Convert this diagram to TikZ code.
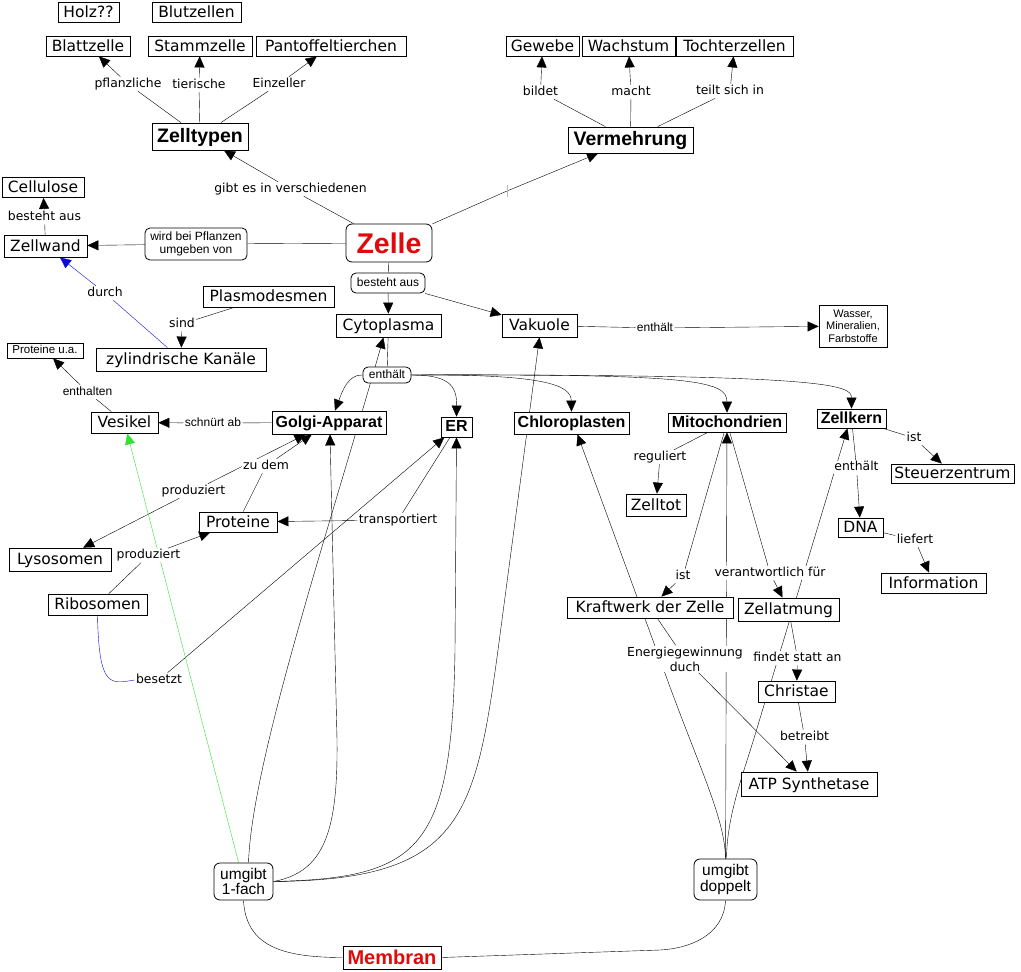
\documentclass[tikz,border=0pt]{standalone}
\usepackage{fontspec}
\usetikzlibrary{arrows.meta}
\newfontfamily\lgf{DejaVu Sans}
\newfontfamily\hvf{Liberation Sans}
\pgfdeclarelayer{bg}
\pgfsetlayers{bg,main}
\definecolor{zred}{RGB}{225,10,10}
\definecolor{zgreen}{RGB}{50,225,50}
\definecolor{zblue}{RGB}{10,10,215}
\begin{document}
\begin{tikzpicture}[x=1pt,y=-1pt, line width=1.05pt,
  wh/.style 2 args={minimum width=#1pt, minimum height=#2pt},
  bx/.style={draw, fill=white, inner sep=0pt, line width=0.8pt},
  con/.style={bx, font=\lgf\fontsize{15.5}{18}\selectfont, text height=11.5pt, text depth=1.5pt},
  conb/.style={bx, font=\hvf\bfseries\fontsize{16}{19}\selectfont, text height=11.5pt, text depth=2.5pt},
  big/.style={bx, font=\hvf\bfseries\fontsize{19.5}{22}\selectfont, text height=14pt, text depth=3pt},
  labbase/.style={fill=white, inner sep=1pt, font=\lgf\fontsize{12.4}{15}\selectfont},
  lab/.style={labbase, text height=9pt, text depth=2.5pt},
  hlab/.style={fill=white, inner sep=1pt, font=\hvf\fontsize{12}{14}\selectfont, text height=8.8pt, text depth=2.5pt},
  rbox/.style={bx, rounded corners=5pt, font=\hvf\fontsize{12}{13}\selectfont, text height=8.8pt, text depth=2.5pt},
  rlab/.style={bx, rounded corners=5pt, align=center, font=\hvf\fontsize{12}{13}\selectfont},
  ubox/.style={bx, rounded corners=6pt, align=center, font=\hvf\fontsize{15.5}{15.5}\selectfont},
  arr/.style={-{Triangle[length=11pt,width=10pt]}},
]
\useasboundingbox (0,0) rectangle (1021,972);

% concepts
\node[con, wh={61}{20}] (holz) at (88.5,12) {Holz??};
\node[con, wh={89}{20}] (blut) at (196.5,12) {Blutzellen};
\node[con, wh={84}{20}] (blatt) at (88,46) {Blattzelle};
\node[con, wh={104}{20}] (stamm) at (200,46) {Stammzelle};
\node[con, wh={150}{20}] (pant) at (331,46) {Pantoffeltierchen};
\node[big, wh={96}{27}] (typ) at (200,136.5) {Zelltypen};
\node[con, wh={73}{20}] (gew) at (542.5,46) {Gewebe};
\node[con, wh={93}{20}] (wach) at (628.5,46) {Wachstum};
\node[con, wh={117}{20}] (toch) at (734.5,46) {Tochterzellen};
\node[big, wh={125}{26}] (verm) at (630.5,140) {Vermehrung};
\node[con, wh={82}{20}] (cell) at (43,187.5) {Cellulose};
\node[con, wh={83}{22}] (wand) at (45.5,246) {Zellwand};
\node[rlab, wh={102}{32}] (wird) at (196,244) {wird bei Pflanzen\\umgeben von};
\node[bx, rounded corners=6pt, text=zred, font=\hvf\bfseries\fontsize{28.5}{30}\selectfont, text height=20.5pt, text depth=0pt, wh={86}{38}] (zelle) at (389,243) {Zelle};
\node[rbox, wh={74}{20}] (best) at (388,283) {besteht aus};
\node[con, wh={131}{21}] (plas) at (268.5,296.5) {Plasmodesmen};
\node[con, wh={105}{23}] (cyto) at (388.5,325.5) {Cytoplasma};
\node[con, wh={75}{23}] (vak) at (539.5,325.5) {Vakuole};
\node[bx, align=center, font=\hvf\fontsize{11}{12.5}\selectfont, wh={68}{42}] (wass) at (853,326) {Wasser,\\Mineralien,\\Farbstoffe};
\node[bx, font=\hvf\fontsize{11.5}{13}\selectfont, text height=8.5pt, text depth=2.5pt, wh={76}{15}] (protua) at (45,350.5) {Proteine u.a.};
\node[con, wh={170}{23}] (kan) at (181,359.5) {zylindrische Kanäle};
\node[rbox, wh={48}{16}] (enth) at (387,375) {enthält};
\node[con, wh={67}{21}] (ves) at (124.5,422.5) {Vesikel};
\node[conb, wh={114}{23}] (golgi) at (329,422.5) {Golgi-Apparat};
\node[conb, wh={31}{20}] (er) at (456.5,427) {ER};
\node[conb, wh={115}{22}] (chlo) at (571.5,423) {Chloroplasten};
\node[conb, wh={118}{19}] (mito) at (727,422.5) {Mitochondrien};
\node[conb, wh={69}{19}] (zk) at (851.5,418.5) {Zellkern};
\node[con, wh={123}{19}] (steu) at (952.5,473.5) {Steuerzentrum};
\node[con, wh={78}{20}] (prot) at (238,522) {Proteine};
\node[con, wh={102}{23}] (lyso) at (60,559.5) {Lysosomen};
\node[con, wh={99}{21}] (ribo) at (97.5,604.5) {Ribosomen};
\node[con, wh={60}{22}] (tot) at (656,505) {Zelltot};
\node[con, wh={45}{19}] (dna) at (860.5,527.5) {DNA};
\node[con, wh={105}{20}] (info) at (933.5,583) {Information};
\node[con, wh={166}{21}] (kraft) at (650,607.5) {Kraftwerk der Zelle};
\node[con, wh={101}{23}] (atm) at (788.5,609.5) {Zellatmung};
\node[con, wh={77}{21}] (chr) at (796.5,691.5) {Christae};
\node[con, wh={136}{24}] (atp) at (809,784) {ATP Synthetase};
\node[ubox, wh={59}{37}] (u1) at (243.5,881.5) {umgibt\\1-fach};
\node[ubox, wh={63}{41}] (u2) at (725.5,879.5) {umgibt\\doppelt};
\node[bx, text=zred, font=\hvf\bfseries\fontsize{20}{22}\selectfont, text height=14.5pt, text depth=0pt, wh={98}{23}] (mem) at (392,957.5) {Membran};

% linking phrases
\node[lab] (lpfl) at (128,84) {pflanzliche};
\node[lab] (ltier) at (199,85) {tierische};
\node[lab] (lein) at (279,84) {Einzeller};
\node[lab] (lgibt) at (290.5,189) {gibt es in verschiedenen};
\node[inner sep=0pt, minimum width=0pt, minimum height=11pt] (vm) at (507,191) {};
\node[lab] (lbild) at (540.5,92) {bildet};
\node[lab] (lmacht) at (631,92) {macht};
\node[lab] (lteil) at (730,91) {teilt sich in};
\node[lab] (lbest) at (44.5,217) {besteht aus};
\node[lab] (ldurch) at (105,293) {durch};
\node[lab] (lsind) at (182,324) {sind};
\node[hlab] (lvak) at (655,328) {enthält};
\node[hlab] (lenthalten) at (87.5,392) {enthalten};
\node[hlab] (lschn) at (213,423) {schnürt ab};
\node[lab] (lzu) at (266,466) {zu dem};
\node[lab] (lprod1) at (193.5,491) {produziert};
\node[lab] (ltrans) at (398,520) {transportiert};
\node[lab] (lprod2) at (148.5,555.5) {produziert};
\node[lab] (lbes) at (159,680) {besetzt};
\node[lab] (lreg) at (660,457) {reguliert};
\node[lab] (list1) at (683,576) {ist};
\node[lab] (lver) at (770,573) {verantwortlich für};
\node[lab] (lfind) at (797.5,658) {findet statt an};
\node[labbase, align=center] (lenerg) at (685,659) {Energiegewinnung\\duch};
\node[lab] (lbetr) at (804.5,737) {betreibt};
\node[lab] (lenth2) at (856.5,467.5) {enthält};
\node[lab] (list2) at (914,438) {ist};
\node[lab] (llief) at (915,540) {liefert};

\draw[gray!55, line width=0.6pt] (vm.north) -- (vm.south);

\begin{pgfonlayer}{bg}
\draw (typ) -- (lpfl); \draw[arr] (lpfl) -- (blatt);
\draw (typ) -- (ltier); \draw[arr] (ltier) -- (stamm);
\draw (typ) -- (lein); \draw[arr] (lein) -- (pant);
\draw (zelle) -- (lgibt); \draw[arr] (lgibt) -- (typ);
\draw (zelle) -- (vm.center); \draw[arr] (vm.center) -- (verm);
\draw (verm) -- (lbild); \draw[arr] (lbild) -- (gew);
\draw (verm) -- (lmacht); \draw[arr] (lmacht) -- (wach);
\draw (verm) -- (lteil); \draw[arr] (lteil) -- (toch);
\draw (zelle) -- (wird); \draw[arr] (wird) -- (wand);
\draw (wand) -- (lbest); \draw[arr] (lbest) -- (cell);
\draw[zblue] (kan) -- (ldurch); \draw[zblue, arr] (ldurch) -- (wand);
\draw (plas) -- (lsind); \draw[arr] (lsind) -- (kan);
\draw (zelle) -- (best); \draw[arr] (best) -- (cyto); \draw[arr] (best) -- (vak);
\draw (vak) -- (lvak); \draw[arr] (lvak) -- (wass);
\draw (cyto) -- (enth);
\draw[arr] (enth.west) .. controls (348,374) and (342,392) .. ([xshift=6pt]golgi.north);
\draw[arr] (enth.east) .. controls (448,375) and (457,385) .. (er.north);
\draw[arr] (enth.east) .. controls (545,374) and (571,385) .. (chlo.north);
\draw[arr] (enth.east) .. controls (690,374) and (727,380) .. (mito.north);
\draw[arr] (enth.east) .. controls (830,374) and (851.5,385) .. (zk.north);
\draw (golgi) -- (lschn); \draw[arr] (lschn) -- (ves);
\draw (ves) -- (lenthalten); \draw[arr] (lenthalten) -- (protua);
\draw[arr] (lprod1) -- (golgi); \draw[arr] (lprod1) -- (lyso);
\draw (prot) -- (lzu); \draw[arr] (lzu) -- (golgi);
\draw (er) -- (ltrans); \draw[arr] (ltrans) -- (prot);
\draw (ribo) -- (lprod2); \draw[arr] (lprod2) -- (prot);
\draw[zblue] (ribo.south) .. controls (99,688) and (110,684) .. (lbes.west);
\draw[arr] (lbes) -- (er);
\draw (mito) -- (lreg); \draw[arr] (lreg) -- (tot);
\draw (mito) -- (list1); \draw[arr] (list1) -- (kraft);
\draw (mito) -- (lver); \draw[arr] (lver) -- (atm);
\draw (atm) -- (lfind); \draw[arr] (lfind) -- (chr);
\draw (chr) -- (lbetr); \draw[arr] (lbetr) -- (atp);
\draw (kraft) -- (lenerg); \draw[arr] (lenerg) -- (atp);
\draw (zk) -- (lenth2); \draw[arr] (lenth2) -- (dna);
\draw (zk) -- (list2); \draw[arr] (list2) -- (steu);
\draw (dna) -- (llief); \draw[arr] (llief) -- (info);
% umgibt 1-fach
\draw[zgreen, arr] (u1) -- (ves);
\draw[arr] ([xshift=5pt]u1.north) .. controls (252,760) and (329,530) .. ([xshift=-5pt]cyto.south);
\draw[arr] (u1.east) .. controls (325,872) and (338,830) .. (337,740) -- ([xshift=1pt]golgi.south);
\draw[arr] (u1.east) .. controls (420,878) and (452,850) .. (455,650) -- (er.south);
\draw[arr] (u1.east) .. controls (460,880) and (475,820) .. (498,650) -- (vak.south);
\draw (u1.south) .. controls (246,945) and (280,957.5) .. (mem.west);
% umgibt doppelt
\draw (u2.south) .. controls (724,935) and (690,948.5) .. (660,950) -- (mem.east);
\draw[arr] (u2) -- (mito);
\draw[arr] (u2.north) .. controls (725,820) and (701,771) .. (670,687) -- ([xshift=6pt]chlo.south);
\draw[arr] ([xshift=1pt]u2.north) .. controls (727,815) and (743,775) .. (755,735) -- ([xshift=-4pt]zk.south);
\end{pgfonlayer}
\end{tikzpicture}
\end{document}
